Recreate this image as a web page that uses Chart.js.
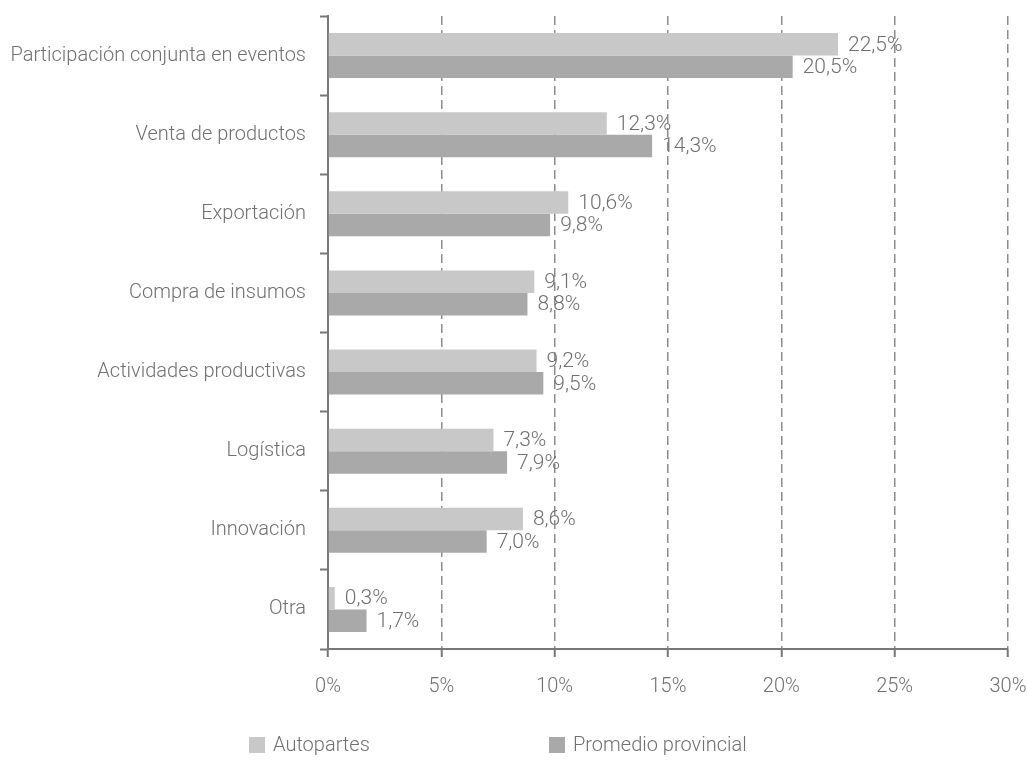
<!DOCTYPE html>
<html>
<head>
<meta charset="utf-8">
<script src="https://cdn.jsdelivr.net/npm/chart.js@4/dist/chart.umd.min.js"></script>
<style>
  html, body { margin: 0; padding: 0; background: #fff; }
  #wrap { width: 1027px; height: 761px; }
</style>
</head>
<body>
<div id="wrap"><canvas id="chart" width="1027" height="761"></canvas></div>
<script>
const categories = [
    'Participación conjunta en eventos',
    'Venta de productos',
    'Exportación',
    'Compra de insumos',
    'Actividades productivas',
    'Logística',
    'Innovación',
    'Otra'
];
const autopartes = [22.5, 12.3, 10.6, 9.1, 9.2, 7.3, 8.6, 0.3];
const promedioProvincial = [20.5, 14.3, 9.8, 8.8, 9.5, 7.9, 7.0, 1.7];
const xTicks = [0, 5, 10, 15, 20, 25, 30];

const FONT = "Roboto, 'Liberation Sans', sans-serif";
const AXIS = '#777777';
const TEXT = '#707070';

// value labels drawn right after each bar end
const valueLabels = {
    id: 'valueLabels',
    afterDatasetsDraw(chart) {
        const ctx = chart.ctx;
        ctx.save();
        ctx.font = '300 21px ' + FONT;
        ctx.fillStyle = TEXT;
        ctx.textBaseline = 'middle';
        ctx.textAlign = 'left';
        chart.data.datasets.forEach((ds, i) => {
            chart.getDatasetMeta(i).data.forEach((bar, j) => {
                const txt = ds.data[j].toFixed(1).replace('.', ',') + '%';
                ctx.fillText(txt, bar.x + 10, bar.y + 1);
            });
        });
        ctx.restore();
    }
};

// legend at the bottom, two items spread apart
const bottomLegend = {
    id: 'bottomLegend',
    afterDraw(chart) {
        const ctx = chart.ctx;
        const xs = [249, 549];
        ctx.save();
        ctx.font = '300 20px ' + FONT;
        ctx.textBaseline = 'middle';
        ctx.textAlign = 'left';
        chart.data.datasets.forEach((ds, i) => {
            ctx.fillStyle = ds.backgroundColor;
            ctx.fillRect(xs[i], 737, 16, 16);
            ctx.fillStyle = TEXT;
            ctx.fillText(ds.label, xs[i] + 24, 746);
        });
        ctx.restore();
    }
};

new Chart(document.getElementById('chart'), {
    type: 'bar',
    data: {
        labels: categories,
        datasets: [{
            label: 'Autopartes',
            data: autopartes,
            backgroundColor: '#c8c8c8',
            barPercentage: 1.0,
            categoryPercentage: 0.57
        }, {
            label: 'Promedio provincial',
            data: promedioProvincial,
            backgroundColor: '#a9a9a9',
            barPercentage: 1.0,
            categoryPercentage: 0.57
        }]
    },
    options: {
        indexAxis: 'y',
        responsive: false,
        animation: false,
        layout: { padding: { top: 16, right: 19, left: 0, bottom: 44 } },
        plugins: {
            tooltip: { enabled: false },
            legend: { display: false }
        },
        scales: {
            x: {
                min: 0,
                max: 30,
                afterBuildTicks(scale) {
                    scale.ticks = xTicks.map(v => ({ value: v }));
                },
                afterFit(scale) { scale.paddingRight = 0; scale.paddingLeft = 0; },
                border: { display: true, color: AXIS, width: 2, dash: [9, 5] },
                grid: {
                    color: '#8c8c8c',
                    lineWidth: 1.5,
                    tickLength: 8,
                    tickColor: AXIS,
                    tickWidth: 2,
                    tickBorderDash: []
                },
                ticks: {
                    color: TEXT,
                    padding: 18,
                    font: { family: FONT, size: 20, weight: 300 },
                    callback: v => v + '%'
                }
            },
            y: {
                afterFit(scale) {
                    scale.width = 328;
                    scale.paddingTop = 0;
                    scale.paddingBottom = 0;
                },
                border: { display: true, color: AXIS, width: 2 },
                grid: {
                    offset: true,
                    drawOnChartArea: false,
                    tickLength: 8,
                    tickColor: AXIS,
                    tickWidth: 2
                },
                ticks: {
                    color: TEXT,
                    padding: 14,
                    font: { family: FONT, size: 20, weight: 300 }
                }
            }
        }
    },
    plugins: [valueLabels, bottomLegend]
});
</script>
</body>
</html>
